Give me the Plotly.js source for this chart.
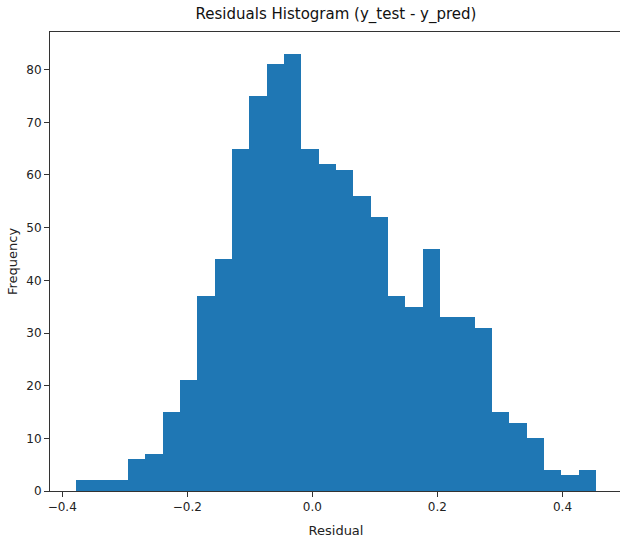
<!DOCTYPE html>
<html>
<head>
<meta charset="utf-8">
<script src="https://cdn.plot.ly/plotly-3.0.1.min.js"></script>
<style>
  html, body { margin: 0; padding: 0; background: #ffffff; overflow: hidden; }
  #chart { width: 623px; height: 541px; }
</style>
</head>
<body>
<div id="chart"></div>
<script>
// Histogram bin range (30 equal bins) and counts
const binStart = -0.378;
const binEnd = 0.4536;
const counts = [2, 2, 2, 6, 7, 15, 21, 37, 44, 65, 75, 81, 83, 65, 62, 61, 56, 52, 37, 35, 46, 33, 33, 31, 15, 13, 10, 4, 3, 4];

const xTickVals = [-0.4, -0.2, 0.0, 0.2, 0.4];
const xTickText = ["\u22120.4", "\u22120.2", "0.0", "0.2", "0.4"];
const yTickVals = [0, 10, 20, 30, 40, 50, 60, 70, 80];

const nBins = counts.length;
const binWidth = (binEnd - binStart) / nBins;
const leftEdges = counts.map((_, i) => binStart + i * binWidth);

// matplotlib-style autoscale margins (5%)
const xPad = 0.05 * (binEnd - binStart);
const yMax = Math.max(...counts) * 1.05;

const trace = {
  type: 'bar',
  x: leftEdges,
  y: counts,
  width: binWidth,
  offset: 0,
  marker: { color: '#1f77b4', line: { width: 0 } },
  hoverinfo: 'x+y'
};

const axisCommon = {
  showgrid: false,
  zeroline: false,
  showline: true,
  linecolor: '#333333',
  linewidth: 1,
  mirror: true,
  ticks: 'outside',
  ticklen: 5,
  tickwidth: 1,
  tickcolor: '#333333',
  tickfont: { family: 'DejaVu Sans', size: 12, color: '#222222' }
};

const layout = {
  width: 623,
  height: 541,
  margin: { l: 50, r: 1, t: 32, b: 50 },
  paper_bgcolor: '#ffffff',
  plot_bgcolor: '#ffffff',
  showlegend: false,
  bargap: 0,
  title: {
    text: 'Residuals Histogram (y_test - y_pred)',
    font: { family: 'DejaVu Sans', size: 15, color: '#111111' },
    x: 0.5, xref: 'paper', xanchor: 'center',
    y: 1 - 14 / 541, yref: 'container', yanchor: 'middle'
  },
  xaxis: Object.assign({}, axisCommon, {
    range: [binStart - xPad, binEnd + xPad],
    tickmode: 'array',
    tickvals: xTickVals,
    ticktext: xTickText,
    title: { text: 'Residual', font: { family: 'DejaVu Sans', size: 13, color: '#222222' }, standoff: 12 }
  }),
  yaxis: Object.assign({}, axisCommon, {
    range: [0, yMax],
    tickmode: 'array',
    tickvals: yTickVals,
    ticktext: yTickVals.map(String),
    title: { text: 'Frequency', font: { family: 'DejaVu Sans', size: 13, color: '#222222' }, standoff: 5 }
  })
};

Plotly.newPlot('chart', [trace], layout, { displayModeBar: false, staticPlot: true });
</script>
</body>
</html>
